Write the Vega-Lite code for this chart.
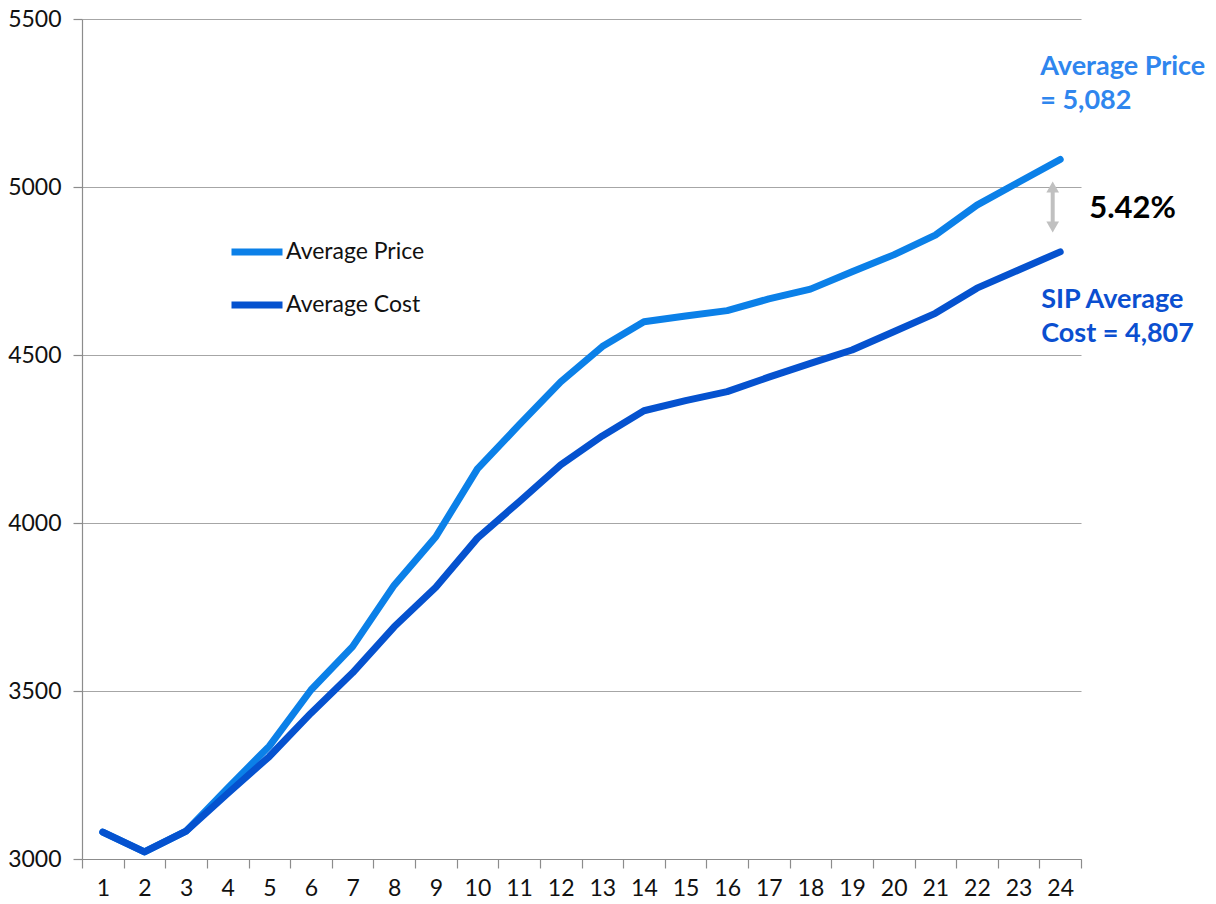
{
  "$schema": "https://vega.github.io/schema/vega-lite/v6.json",
  "width": 999,
  "height": 840,
  "autosize": {"type": "none"},
  "padding": {"left": 82, "top": 19, "right": 135, "bottom": 45},
  "background": "white",
  "config": {
    "view": {"stroke": null},
    "font": "Lato",
    "axis": {"labelFont": "Lato", "labelFontSize": 23, "labelColor": "#111111", "domainColor": "#8c8c8c", "tickColor": "#8c8c8c", "gridColor": "#a6a6a6", "gridWidth": 1.2, "domainWidth": 1.2, "tickWidth": 1.2}
  },
  "datasets": {
    "series": [
      {"m": "1", "series": "Average Price", "v": 3080}, {"m": "2", "series": "Average Price", "v": 3021}, {"m": "3", "series": "Average Price", "v": 3083},
      {"m": "4", "series": "Average Price", "v": 3211}, {"m": "5", "series": "Average Price", "v": 3336}, {"m": "6", "series": "Average Price", "v": 3503},
      {"m": "7", "series": "Average Price", "v": 3632}, {"m": "8", "series": "Average Price", "v": 3815}, {"m": "9", "series": "Average Price", "v": 3959},
      {"m": "10", "series": "Average Price", "v": 4161}, {"m": "11", "series": "Average Price", "v": 4292}, {"m": "12", "series": "Average Price", "v": 4420},
      {"m": "13", "series": "Average Price", "v": 4525}, {"m": "14", "series": "Average Price", "v": 4599}, {"m": "15", "series": "Average Price", "v": 4616},
      {"m": "16", "series": "Average Price", "v": 4632}, {"m": "17", "series": "Average Price", "v": 4667}, {"m": "18", "series": "Average Price", "v": 4696},
      {"m": "19", "series": "Average Price", "v": 4748}, {"m": "20", "series": "Average Price", "v": 4798}, {"m": "21", "series": "Average Price", "v": 4857},
      {"m": "22", "series": "Average Price", "v": 4946}, {"m": "23", "series": "Average Price", "v": 5014}, {"m": "24", "series": "Average Price", "v": 5082},
      {"m": "1", "series": "Average Cost", "v": 3080}, {"m": "2", "series": "Average Cost", "v": 3021}, {"m": "3", "series": "Average Cost", "v": 3083},
      {"m": "4", "series": "Average Cost", "v": 3195}, {"m": "5", "series": "Average Cost", "v": 3305}, {"m": "6", "series": "Average Cost", "v": 3434},
      {"m": "7", "series": "Average Cost", "v": 3554}, {"m": "8", "series": "Average Cost", "v": 3691}, {"m": "9", "series": "Average Cost", "v": 3809},
      {"m": "10", "series": "Average Cost", "v": 3955}, {"m": "11", "series": "Average Cost", "v": 4063}, {"m": "12", "series": "Average Cost", "v": 4173},
      {"m": "13", "series": "Average Cost", "v": 4259}, {"m": "14", "series": "Average Cost", "v": 4334}, {"m": "15", "series": "Average Cost", "v": 4364},
      {"m": "16", "series": "Average Cost", "v": 4391}, {"m": "17", "series": "Average Cost", "v": 4434}, {"m": "18", "series": "Average Cost", "v": 4475},
      {"m": "19", "series": "Average Cost", "v": 4515}, {"m": "20", "series": "Average Cost", "v": 4569}, {"m": "21", "series": "Average Cost", "v": 4624},
      {"m": "22", "series": "Average Cost", "v": 4699}, {"m": "23", "series": "Average Cost", "v": 4753}, {"m": "24", "series": "Average Cost", "v": 4807}
    ],
    "priceNote": [{"m": "24", "v": 5357, "label": "Average Price"}, {"m": "24", "v": 5256, "label": "= 5,082"}],
    "costNote": [{"m": "24", "v": 4664, "label": "SIP Average"}, {"m": "24", "v": 4563, "label": "Cost = 4,807"}],
    "pctNote": [{"m": "24", "v": 4935, "label": "5.42%"}],
    "arrow": [{"m": "24", "lo": 4881, "hi": 5000}]
  },
  "encoding": {
    "x": {
      "field": "m", "type": "ordinal", "sort": null,
      "scale": {"type": "band", "domain": ["1","2","3","4","5","6","7","8","9","10","11","12","13","14","15","16","17","18","19","20","21","22","23","24"], "paddingInner": 0, "paddingOuter": 0},
      "axis": {"title": null, "labelAngle": 0, "tickBand": "extent", "tickSize": 9, "labelPadding": 9, "grid": false}
    }
  },
  "layer": [
    {
      "data": {"name": "series"},
      "transform": [{"filter": "datum.series === 'Average Price'"}],
      "mark": {"type": "line", "strokeWidth": 7, "strokeCap": "round", "strokeJoin": "round"},
      "encoding": {
        "x": {"field": "m", "type": "ordinal", "bandPosition": 0.5},
        "y": {"field": "v", "type": "quantitative", "scale": {"domain": [3000, 5500], "nice": false, "zero": false}, "axis": {"title": null, "values": [3000, 3500, 4000, 4500, 5000, 5500], "format": "d", "tickSize": 9, "labelPadding": 12, "grid": true, "domain": true}},
        "color": {"field": "series", "type": "nominal", "scale": {"domain": ["Average Price", "Average Cost"], "range": ["#0b80e8", "#0552cf"]},
          "legend": {"title": null, "orient": "none", "legendX": 146, "legendY": 204, "symbolType": "stroke", "symbolSize": 2601, "symbolStrokeWidth": 7, "labelFont": "Lato", "labelFontSize": 23, "labelColor": "#111111", "labelOffset": 0, "rowPadding": 10}}
      }
    },
    {
      "data": {"name": "series"},
      "transform": [{"filter": "datum.series === 'Average Cost'"}],
      "mark": {"type": "line", "strokeWidth": 7, "strokeCap": "round", "strokeJoin": "round"},
      "encoding": {
        "x": {"field": "m", "type": "ordinal", "bandPosition": 0.5},
        "y": {"field": "v", "type": "quantitative"},
        "color": {"field": "series", "type": "nominal"}
      }
    },
    {
      "data": {"name": "arrow"},
      "mark": {"type": "rule", "strokeWidth": 4, "color": "#c0c0c0"},
      "encoding": {
        "x": {"field": "m", "type": "ordinal", "bandPosition": 0.32},
        "y": {"field": "lo", "type": "quantitative"},
        "y2": {"field": "hi"}
      }
    },
    {
      "data": {"name": "arrow"},
      "mark": {"type": "point", "shape": "triangle-up", "filled": true, "size": 160, "color": "#c0c0c0", "opacity": 1},
      "encoding": {
        "x": {"field": "m", "type": "ordinal", "bandPosition": 0.32},
        "y": {"field": "hi", "type": "quantitative"}
      }
    },
    {
      "data": {"name": "arrow"},
      "mark": {"type": "point", "shape": "triangle-down", "filled": true, "size": 160, "color": "#c0c0c0", "opacity": 1},
      "encoding": {
        "x": {"field": "m", "type": "ordinal", "bandPosition": 0.32},
        "y": {"field": "lo", "type": "quantitative"}
      }
    },
    {
      "data": {"name": "priceNote"},
      "mark": {"type": "text", "align": "left", "baseline": "middle", "font": "Lato", "fontSize": 27, "fontWeight": "bold", "color": "#2f86ee", "dx": -20},
      "encoding": {
        "x": {"field": "m", "type": "ordinal", "bandPosition": 0.5},
        "y": {"field": "v", "type": "quantitative"},
        "text": {"field": "label"}
      }
    },
    {
      "data": {"name": "costNote"},
      "mark": {"type": "text", "align": "left", "baseline": "middle", "font": "Lato", "fontSize": 27, "fontWeight": "bold", "color": "#0b4fd0", "dx": -19},
      "encoding": {
        "x": {"field": "m", "type": "ordinal", "bandPosition": 0.5},
        "y": {"field": "v", "type": "quantitative"},
        "text": {"field": "label"}
      }
    },
    {
      "data": {"name": "pctNote"},
      "mark": {"type": "text", "align": "left", "baseline": "middle", "font": "Lato", "fontSize": 31, "fontWeight": "bold", "color": "#000000", "dx": 29},
      "encoding": {
        "x": {"field": "m", "type": "ordinal", "bandPosition": 0.5},
        "y": {"field": "v", "type": "quantitative"},
        "text": {"field": "label"}
      }
    }
  ]
}
